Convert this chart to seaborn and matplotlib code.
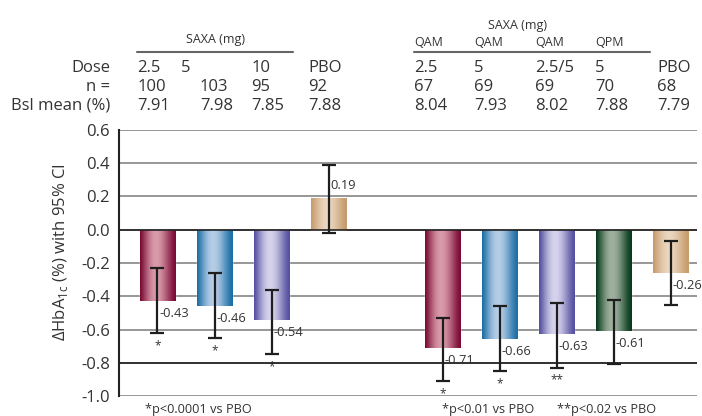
import numpy as np
import pandas as pd
import matplotlib
matplotlib.use('Agg')
import matplotlib.pyplot as plt
from matplotlib.colors import to_rgb
import seaborn as sns

# Bars: change in HbA1c (%) with 95% CI
arms = ['2.5', '5', '10', 'PBO', 'QAM 2.5', 'QAM 5', 'QAM 2.5/5', 'QPM 5', 'PBO (2)']
change = [-0.43, -0.46, -0.54, 0.19, -0.71, -0.66, -0.63, -0.61, -0.26]
ci_low = [-0.62, -0.65, -0.75, -0.02, -0.91, -0.85, -0.83, -0.81, -0.45]
ci_high = [-0.23, -0.26, -0.36, 0.39, -0.53, -0.46, -0.44, -0.42, -0.07]
stars = ['*', '*', '*', '', '*', '*', '**', '', '']

# Header table
dose_left = ['2.5', '5', '10', 'PBO']
n_left = ['100', '103', '95', '92']
bsl_left = ['7.91', '7.98', '7.85', '7.88']
sched_right = ['QAM', 'QAM', 'QAM', 'QPM']
dose_right = ['2.5', '5', '2.5/5', '5', 'PBO']
n_right = ['67', '69', '69', '70', '68']
bsl_right = ['8.04', '7.93', '8.02', '7.88', '7.79']

yticks = [0.6, 0.4, 0.2, 0.0, -0.2, -0.4, -0.6, -0.8, -1.0]

# edge colour / highlight colour of the shaded bars
edge_cols = ['#7b0a35', '#1b6ea5', '#5550a0', '#c69b6d',
             '#7b0a35', '#1b6ea5', '#5550a0', '#063a1a', '#c69b6d']
light_cols = ['#d99aaa', '#b5cde6', '#d5d3ec', '#ebd6be',
              '#d99aaa', '#b5cde6', '#d5d3ec', '#9fb09f', '#ebd6be']

sns.set_style('white')
plt.rcParams['font.family'] = ['Open Sans', 'DejaVu Sans']
plt.rcParams['mathtext.fontset'] = 'custom'
plt.rcParams['mathtext.rm'] = 'Open Sans'

W, H = 702, 416
fig = plt.figure(figsize=(W / 100, H / 100), dpi=100)
ax = fig.add_axes([119 / W, 1 - 396 / H, (697 - 119) / W, (396 - 130) / H])

df = pd.DataFrame({'arm': arms, 'change': change})
order = arms[:4] + [' '] + arms[4:]
sns.barplot(data=df, x='arm', y='change', hue='arm', order=order, hue_order=arms,
            palette=edge_cols, width=0.62, legend=False, ax=ax, zorder=3)

xlim = (-0.675, 9.46)
ylim = (-1.0, 0.6)

# cylinder-like shading on each bar
u = np.linspace(0, 1, 200)
prof = np.sin(np.pi * u ** 0.87) ** 1.5
centers = {}
for p in ax.patches:
    xc = p.get_x() + p.get_width() / 2
    name = order[int(round(xc))]
    i = arms.index(name)
    centers[i] = xc
    c0 = np.array(to_rgb(edge_cols[i]))
    c1 = np.array(to_rgb(light_cols[i]))
    img = c0[None, None, :] + (c1 - c0)[None, None, :] * prof[None, :, None]
    x0, x1 = p.get_x(), p.get_x() + p.get_width()
    y0, y1 = sorted([p.get_y(), p.get_y() + p.get_height()])
    im = ax.imshow(img, extent=[x0, x1, y0, y1], aspect='auto', origin='lower',
                   interpolation='bilinear', zorder=3.5)
    im.set_clip_path(p)

xs = np.array([centers[i] for i in range(len(arms))])
chg = np.array(change)
yerr = [chg - np.array(ci_low), np.array(ci_high) - chg]
ax.errorbar(xs, chg, yerr=yerr, fmt='none', ecolor='#1e1e1e', elinewidth=1.6,
            capsize=5, capthick=1.6, zorder=6)

for i, v in enumerate(change):
    off = 9 if v > 0 else -9
    ax.annotate(f'{v:.2f}', (xs[i], v), xytext=(1.5, off), textcoords='offset points',
                ha='left', va='center', fontsize=9.3, color='#333333', zorder=7)
    if stars[i]:
        ax.annotate(stars[i], (xs[i], ci_low[i]), xytext=(0, -9), textcoords='offset points',
                    ha='center', va='center', fontsize=8.5, color='#333333')

ax.set_xlim(*xlim)
ax.set_ylim(*ylim)
ax.set_yticks(yticks, [f'{t:.1f}' for t in yticks])
ax.set_xticks([])
ax.set_xlabel('')
ax.set_ylabel('')
ax.tick_params(axis='y', length=0, pad=6.5, labelsize=12, labelcolor='#333333')
ax.yaxis.grid(True, color='#7a7a7a', lw=1.1)
ax.set_axisbelow(True)
for y in [0.0, -0.8]:
    ax.axhline(y, color='#222222', lw=1.2, zorder=4)
for s in ['top', 'right', 'bottom']:
    ax.spines[s].set_visible(False)
ax.spines['left'].set_color('#222222')
ax.spines['left'].set_linewidth(1.5)

fig.text(60 / W, 1 - 252 / H, r'ΔHbA$_{\mathregular{1c}}$ (%) with 95% CI', rotation=90,
         ha='center', va='center', fontsize=12, color='#333333')


def ftext(x, y, s, **kw):
    kw.setdefault('color', '#333333')
    fig.text(x / W, 1 - y / H, s, **kw)


# header rows
row_base = [72.5, 91, 109.5]
for lab, yb in zip(['Dose', 'n =', 'Bsl mean (%)'], row_base):
    ftext(110, yb, lab, ha='right', va='baseline', fontsize=12)

left_x = [137.5, 200, 251.5, 308]
dose_left_x = [137.5, 181, 251.5, 308]
for j in range(4):
    ftext(dose_left_x[j], row_base[0], dose_left[j], va='baseline', fontsize=12)
    ftext(left_x[j], row_base[1], n_left[j], va='baseline', fontsize=12)
    ftext(left_x[j], row_base[2], bsl_left[j], va='baseline', fontsize=12)

right_x = [414, 474, 535, 595, 657]
for j in range(5):
    ftext(right_x[j], row_base[0], dose_right[j], va='baseline', fontsize=12)
    ftext(right_x[j], row_base[1], n_right[j], va='baseline', fontsize=12)
    ftext(right_x[j], row_base[2], bsl_right[j], va='baseline', fontsize=12)
for j in range(4):
    ftext(right_x[j], 46.5, sched_right[j], va='baseline', fontsize=9)

ftext(215, 43.5, 'SAXA (mg)', ha='center', va='baseline', fontsize=9)
ftext(518, 28.5, 'SAXA (mg)', ha='center', va='baseline', fontsize=9)
fig.add_artist(plt.Line2D([137 / W, 293 / W], [1 - 52 / H] * 2, color='#666666', lw=1.5))
fig.add_artist(plt.Line2D([414 / W, 650 / W], [1 - 52 / H] * 2, color='#666666', lw=1.5))

# footnotes
ftext(145, 413, '*p<0.0001 vs PBO', va='baseline', fontsize=9.2)
ftext(442, 413, '*p<0.01 vs PBO', va='baseline', fontsize=9.2)
ftext(557, 413, '**p<0.02 vs PBO', va='baseline', fontsize=9.2)

fig.savefig('out.png', dpi=100)
